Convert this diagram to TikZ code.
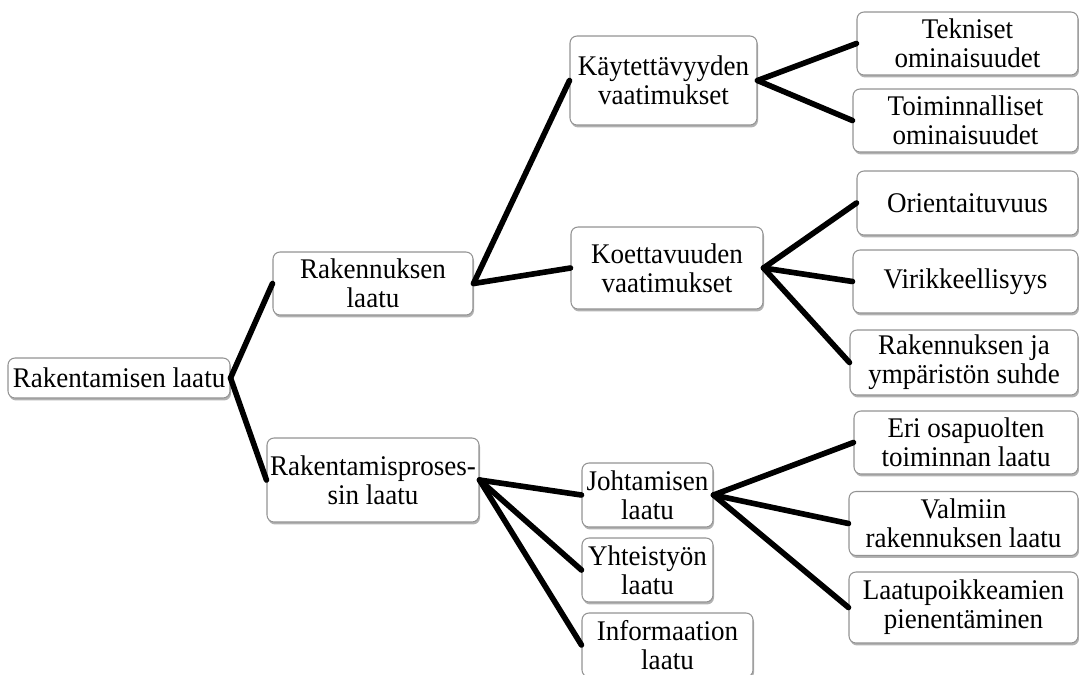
\documentclass[tikz,border=0pt]{standalone}
\usepackage{fontspec}
\setmainfont[FakeStretch=0.95]{Liberation Serif}
\usepackage{tikz}
\usetikzlibrary{shadows}
\tikzset{>=latex}
\tikzset{
  box/.style={draw=gray!85, line width=0.6pt, fill=white, rounded corners=4pt,
    align=center, inner sep=1pt, font=\fontsize{16.2}{16.6}\selectfont,
    drop shadow={shadow xshift=0.6pt, shadow yshift=-1.4pt, fill=black, opacity=0.3}},
  boxsize/.style 2 args={minimum width=#1*0.02cm, minimum height=#2*0.02cm},
  link/.style={line width=3.2pt, line cap=round}
}

\begin{document}
\begin{tikzpicture}[x=0.02cm, y=-0.02cm]
  \useasboundingbox (0,0) rectangle (1079,674);

  % Level 1 and 2
  \node[box, boxsize={222}{40}] (root) at (119,378) {Rakentamisen laatu};
  \node[box, boxsize={200}{63}] (rak) at (373,283.5) {Rakennuksen\\laatu};
  \node[box, boxsize={212}{84}] (pros) at (373,480) {Rakentamisproses-\\sin laatu};

  % Level 3
  \node[box, boxsize={187}{89}] (kay) at (663.5,80.5) {Käytettävyyden\\vaatimukset};
  \node[box, boxsize={192}{82}] (koe) at (667,268) {Koettavuuden\\vaatimukset};
  \node[box, boxsize={131}{64}] (joh) at (647.5,495) {Johtamisen\\laatu};
  \node[box, boxsize={131}{64}] (yht) at (647.5,570) {Yhteistyön\\laatu};
  \node[box, boxsize={171}{64}] (inf) at (667.5,645) {Informaation\\laatu};

  % Level 4
  \node[box, boxsize={221}{63}] (tek) at (967.5,43.5) {Tekniset\\ominaisuudet};
  \node[box, boxsize={225}{63}] (toi) at (965.5,120.5) {Toiminnalliset\\ominaisuudet};
  \node[box, boxsize={221}{64}] (ori) at (967.5,203) {Orientaituvuus};
  \node[box, boxsize={225}{63}] (vir) at (965.5,281.5) {Virikkeellisyys};
  \node[box, boxsize={228}{65}] (ymp) at (964,362.5) {Rakennuksen ja\\ympäristön suhde};
  \node[box, boxsize={224}{63}] (eri) at (966,442.5) {Eri osapuolten\\toiminnan laatu};
  \node[box, boxsize={229}{64}] (val) at (963.5,523.5) {Valmiin\\rakennuksen laatu};
  \node[box, boxsize={229}{71}] (laa) at (963.5,607.5) {Laatupoikkeamien\\pienentäminen};

  % Connectors
  \draw[link] (root.east) -- (rak.west);
  \draw[link] (root.east) -- (pros.west);
  \foreach \t in {kay,koe} \draw[link] (rak.east) -- (\t.west);
  \foreach \t in {joh,yht,inf} \draw[link] (pros.east) -- (\t.west);
  \foreach \t in {tek,toi} \draw[link] (kay.east) -- (\t.west);
  \foreach \t in {ori,vir,ymp} \draw[link] (koe.east) -- (\t.west);
  \foreach \t in {eri,val,laa} \draw[link] (joh.east) -- (\t.west);

\end{tikzpicture}
\end{document}
